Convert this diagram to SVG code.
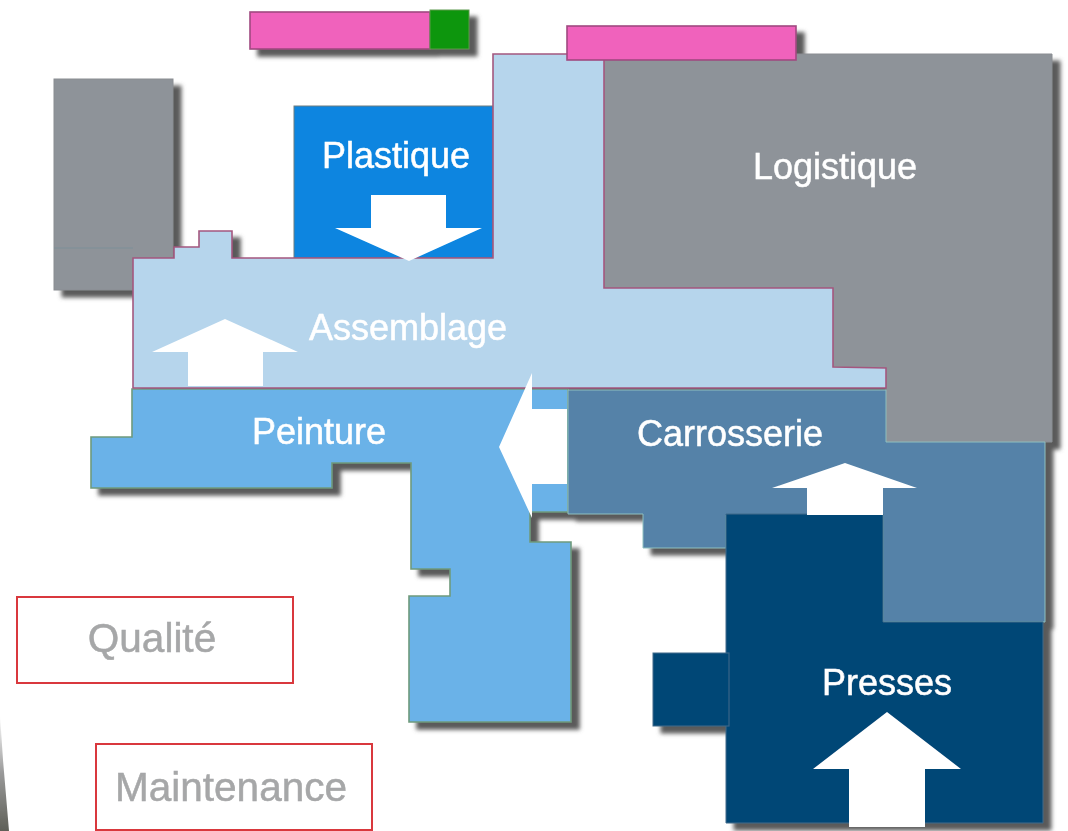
<svg xmlns="http://www.w3.org/2000/svg" width="1068" height="831" viewBox="0 0 1068 831">
<defs>
<linearGradient id="wedge" x1="0" y1="0" x2="0" y2="1"><stop offset="0" stop-color="#fff"/><stop offset="0.5" stop-color="#999"/><stop offset="1" stop-color="#5f6058"/></linearGradient>
<filter id="shadow" filterUnits="userSpaceOnUse" x="0" y="0" width="1068" height="831"><feGaussianBlur in="SourceAlpha" stdDeviation="2" result="b"/><feOffset in="b" dx="8" dy="7" result="o"/><feFlood flood-color="#5a5a5a"/><feComposite in2="o" operator="in"/></filter>
<filter id="soft" filterUnits="userSpaceOnUse" x="0" y="0" width="1068" height="831"><feGaussianBlur stdDeviation="0.6"/></filter>
</defs>
<style>
.lbl{font-family:"Liberation Sans",Arial,sans-serif;font-size:36px;fill:#fff;stroke:#fff;stroke-width:.5;text-anchor:middle}
.side{font-size:40.5px;fill:#a6a7a8;stroke:#a6a7a8}
.box{fill:#fff;stroke:#d9393c;stroke-width:2}
.grey{fill:#8e9399;stroke:#8a8d92;stroke-width:1}
.assem{fill:#b6d5ec;stroke:#a4577f;stroke-width:1.6}
.plast{fill:#0785e0;stroke:#6e7f80;stroke-width:1}
.peint{fill:#6ab2e8;stroke:#6f9a7c;stroke-width:1.6}
.carro{fill:#5482a8;stroke:#8fc0c0;stroke-width:1}
.press{fill:#064676;stroke:#3d6a8a;stroke-width:1}
.pink{fill:#f062bc;stroke:#a04a80;stroke-width:1.6}
.green{fill:#0a9608;stroke:#5f9a50;stroke-width:1}
.flow{fill:#fff}
</style>
<rect width="1068" height="831" fill="#fff"/>
<g filter="url(#soft)">
<polygon id="edge-wedge" points="0,715 3,760 9,831 0,831" fill="url(#wedge)"/>
<g id="shadows" filter="url(#shadow)">
<use href="#p-pink1"/><use href="#p-green"/><use href="#p-pink2"/><use href="#p-annex"/><use href="#p-logi"/><use href="#p-assem"/><use href="#p-plast"/><use href="#p-peint"/><use href="#p-carro"/><use href="#p-press"/><use href="#p-press2"/>
</g>
<g id="annexe-gauche">
<rect id="p-annex" class="grey" x="54" y="79" width="119" height="211"/>
<line x1="54" y1="248" x2="133" y2="248" stroke="#7d8f98" stroke-width="1"/>
</g>
<g id="logistique">
<polygon id="p-logi" class="grey" points="604,54 1052,54 1052,442 886,442 886,368 833,368 833,288 604,288"/>
<text class="lbl" x="835" y="179">Logistique</text>
</g>
<g id="plastique">
<rect id="p-plast" class="plast" x="294" y="106" width="199" height="152"/>
<text class="lbl" x="396" y="168">Plastique</text>
</g>
<g id="peinture">
<polygon id="p-peint" class="peint" points="132,389 568,389 568,512 530,512 530,542 571,542 571,722 409,722 409,596 450,596 450,569 411,569 411,463 332,463 332,488 91,488 91,437 132,437"/>
<text class="lbl" x="319" y="444">Peinture</text>
</g>
<g id="carrosserie">
<polygon id="p-carro" class="carro" points="568,390 886,390 886,442 1045,442 1045,622 883,622 883,515 726,515 726,548 643,548 643,514 568,514"/>
<text class="lbl" x="730" y="446">Carrosserie</text>
</g>
<g id="assemblage">
<polygon id="p-assem" class="assem" points="493,54 604,54 604,288 833,288 833,367 886,368 886,388 133,388 133,258 174,258 174,247 199,247 199,231 232,231 232,258 493,258"/>
<text class="lbl" x="408" y="340">Assemblage</text>
</g>
<g id="presses">
<polygon id="p-press" class="press" points="726,514 883,514 883,622 1043,622 1043,823 726,823"/>
<rect id="p-press2" class="press" x="653" y="653" width="76" height="73"/>
<text class="lbl" x="887" y="695">Presses</text>
</g>
<g id="batiment-rose-vert">
<rect id="p-pink1" class="pink" x="250" y="12" width="180" height="37"/>
<rect id="p-green" class="green" x="430" y="10" width="39" height="39"/>
</g>
<g id="batiment-rose">
<rect id="p-pink2" class="pink" x="567" y="26" width="229" height="34"/>
</g>
<g id="qualite">
<rect class="box" x="17" y="597" width="276" height="86"/>
<text class="lbl side" x="152" y="652">Qualité</text>
</g>
<g id="maintenance">
<rect class="box" x="96" y="744" width="276" height="86"/>
<text class="lbl side" x="231" y="801">Maintenance</text>
</g>
<g id="connectors">
<polygon class="flow" points="371,195 446,195 446,228 482,228 409,261 335,228 371,228"/>
<polygon class="flow" points="225,319 298,352 263,352 263,386 188,386 188,352 152,352"/>
<polygon class="flow" points="499,447 532,373 532,409 567,409 567,484 532,484 532,518"/>
<polygon class="flow" points="845,463 917,488 883,488 883,515 807,515 807,488 772,488"/>
<polygon class="flow" points="887,712 961,769 925,769 925,827 849,827 849,769 813,769"/>
</g>
</g>
</svg>
